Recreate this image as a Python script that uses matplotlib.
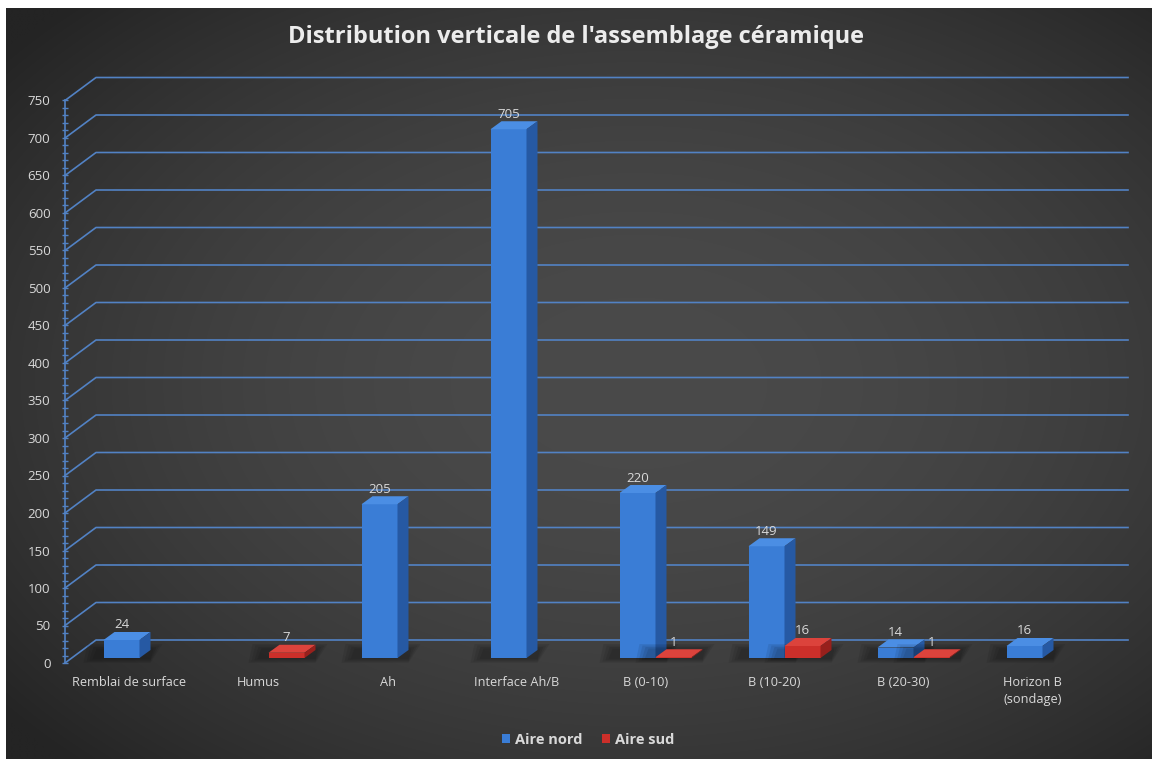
import numpy as np
import matplotlib
matplotlib.use("Agg")
import matplotlib.pyplot as plt
from matplotlib.patches import Polygon, Patch

# ---- data ----
categories = ["Remblai de surface", "Humus", "Ah", "Interface Ah/B",
              "B (0-10)", "B (10-20)", "B (20-30)", "Horizon B\n(sondage)"]
aire_nord = [24, np.nan, 205, 705, 220, 149, 14, 16]
aire_sud = [np.nan, 7, np.nan, np.nan, 1, 16, 1, np.nan]
series_names = ["Aire nord", "Aire sud"]
y_ticks = list(range(0, 751, 50))
title = "Distribution verticale de l'assemblage céramique"

# ---- style ----
plt.rcParams["font.family"] = ["Open Sans", "DejaVu Sans"]
TXT = "#d9d9d9"
GRID = "#5282c4"
BLUE = {"front": "#3a7dd6", "top": "#4b8ee4", "side": "#2659a3"}
RED = {"front": "#cc2f2a", "top": "#dc433c", "side": "#97201c"}

W, H = 1152, 759
fig = plt.figure(figsize=(W / 100, H / 100), dpi=100)
fig.patch.set_facecolor("white")

# dark radial background
bg = fig.add_axes([6 / W, 0, 1 - 6 / W, (H - 8) / H])
yy, xx = np.mgrid[0:1:300j, 0:1:450j]
r2 = (((xx - 0.55) / 0.5) ** 2 + ((yy - 0.5) / 0.5) ** 2) / 2.0
shade = (74 - 38 * np.clip(r2, 0, 1)) / 255.0
bg.imshow(np.dstack([shade, shade, shade]), aspect="auto", extent=[0, 1, 0, 1],
          interpolation="bilinear")
bg.set_axis_off()

# plot area (front plane of the 3D box)
ax = fig.add_axes([65 / W, 96 / H, 1032 / W, 562.5 / H])
ax.set_xlim(-0.5, len(categories) - 0.5)
ax.set_ylim(0, 750)
ax.patch.set_alpha(0)
for s in ["top", "right", "bottom"]:
    ax.spines[s].set_visible(False)
ax.spines["left"].set_color(GRID)
ax.spines["left"].set_linewidth(1.2)

sx = 1032 / len(categories)   # px per category
sy = 562.5 / 750              # px per unit

# back wall depth and bar depth (in pixels -> data units)
bdx, bdy = 31 / sx, 23 / sy
base = 5 / sy
tdx, tdy = 11 / sx, 8 / sy
bar_w = 36 / sx
offs = [-26 / sx, 10 / sx]

x_right = len(categories) - 0.5
for v in y_ticks:
    ax.plot([-0.5, -0.5 + bdx, x_right + bdx], [v, v + bdy, v + bdy],
            color=GRID, lw=1.2, clip_on=False, zorder=1)

ax.set_yticks(y_ticks)
ax.set_yticks(range(0, 751, 10), minor=True)
ax.tick_params(axis="y", which="both", direction="inout", color=GRID,
               colors=TXT, labelsize=9.5, pad=8, length=5, width=1)
ax.tick_params(axis="y", which="minor", length=4)
ax.set_xticks(range(len(categories)), categories)
ax.tick_params(axis="x", length=0, colors=TXT, labelsize=9.2, pad=9)
for lab in ax.get_xticklabels():
    lab.set_linespacing(1.45)
    lab.set_va("top")

xs = np.arange(len(categories))


def draw_series(values, off, col, z):
    vals = np.array(values, dtype=float)
    ok = ~np.isnan(vals)
    x0 = xs[ok] + off
    v = vals[ok]
    # soft floor shadow
    for k in range(4):
        g = (k + 1) * 3
        for a, b in zip(x0, v):
            ax.add_patch(Polygon(
                [(a - (g + 8) / sx, base - g * 0.4 / sy), (a + bar_w + tdx, base - g * 0.4 / sy),
                 (a + bar_w + tdx + g / sx, base + tdy + g * 0.5 / sy),
                 (a - (g + 4) / sx, base + tdy + g * 0.5 / sy)],
                fc="black", ec="none", alpha=0.08, zorder=z - 0.5))
    ax.bar(x0, v, width=bar_w, bottom=base, align="edge",
           color=col["front"], edgecolor="none", zorder=z)
    for a, b in zip(x0, v):
        a1 = a + bar_w
        top = base + b
        ax.add_patch(Polygon([(a, top), (a1, top), (a1 + tdx, top + tdy), (a + tdx, top + tdy)],
                             fc=col["top"], ec="none", zorder=z))
        ax.add_patch(Polygon([(a1, base), (a1, top), (a1 + tdx, top + tdy), (a1 + tdx, base + tdy)],
                             fc=col["side"], ec="none", zorder=z))
        ax.text(a + bar_w / 2, top + 15 / sy, f"{int(b)}", ha="center", va="center",
                color=TXT, fontsize=9.5, zorder=z + 1)


draw_series(aire_nord, offs[0], BLUE, 3)
draw_series(aire_sud, offs[1], RED, 4)

fig.text(0.5, 1 - 37 / H, title, ha="center", va="center", fontsize=17,
         fontweight="bold", color="#ececec")

handles = [Patch(fc=BLUE["front"]), Patch(fc=RED["front"])]
fig.legend(handles, series_names, loc="center", bbox_to_anchor=(588 / W, 1 - 740 / H),
           ncol=2, frameon=False, handlelength=0.55, handleheight=0.55,
           handletextpad=0.35, columnspacing=1.3, labelcolor=TXT,
           prop={"weight": "bold", "size": 10.5})

fig.savefig("out.png", dpi=100, facecolor=fig.get_facecolor())
